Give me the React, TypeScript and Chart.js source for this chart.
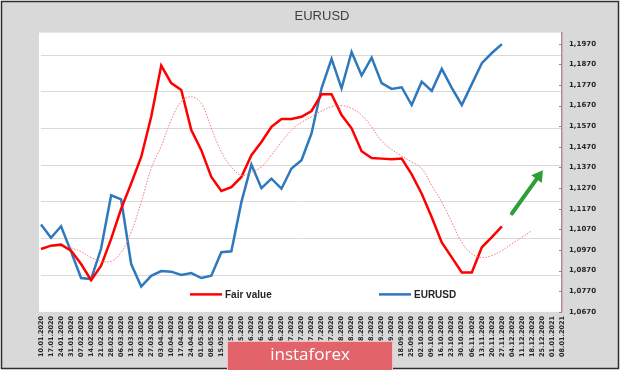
import React, { useEffect, useRef } from "react";
import { Chart, registerables } from "chart.js";

Chart.register(...registerables);

const DATES = [
  "10.01.2020", "17.01.2020", "24.01.2020", "31.01.2020", "07.02.2020", "14.02.2020", "21.02.2020",
  "28.02.2020", "06.03.2020", "13.03.2020", "20.03.2020", "27.03.2020", "03.04.2020", "10.04.2020",
  "17.04.2020", "24.04.2020", "01.05.2020", "08.05.2020", "15.05.2020", "22.05.2020", "29.05.2020",
  "05.06.2020", "12.06.2020", "19.06.2020", "26.06.2020", "03.07.2020", "10.07.2020", "17.07.2020",
  "24.07.2020", "31.07.2020", "07.08.2020", "14.08.2020", "21.08.2020", "28.08.2020", "04.09.2020",
  "11.09.2020", "18.09.2020", "25.09.2020", "02.10.2020", "09.10.2020", "16.10.2020", "23.10.2020",
  "30.10.2020", "06.11.2020", "13.11.2020", "20.11.2020", "27.11.2020", "04.12.2020", "11.12.2020",
  "18.12.2020", "25.12.2020", "01.01.2021", "08.01.2021",
];

const EURUSD = [
  1.1094, 1.1029, 1.1085, 1.0962, 1.0834, 1.0829, 1.0977, 1.1235, 1.1215, 1.0902,
  1.0793, 1.0845, 1.0868, 1.0865, 1.0849, 1.0858, 1.0834, 1.0845, 1.0959, 1.0964,
  1.1202, 1.1384, 1.1270, 1.1316, 1.1267, 1.1365, 1.1405, 1.1535, 1.1754, 1.1897,
  1.1754, 1.1930, 1.1816, 1.1903, 1.1779, 1.1751, 1.1759, 1.1673, 1.1786, 1.1741,
  1.1848, 1.1756, 1.1673, 1.1774, 1.1876, 1.1925, 1.1968,
];

const FAIR_VALUE = [
  1.0975, 1.0991, 1.0996, 1.0967, 1.0902, 1.0824, 1.0894, 1.1024, 1.1170, 1.1292,
  1.1421, 1.1616, 1.1864, 1.1779, 1.1746, 1.1551, 1.1454, 1.1324, 1.1256, 1.1275,
  1.1324, 1.1430, 1.1494, 1.1567, 1.1605, 1.1605, 1.1616, 1.1644, 1.1725, 1.1725,
  1.1624, 1.1560, 1.1449, 1.1416, 1.1413, 1.1410, 1.1413, 1.1337, 1.1243, 1.1129,
  1.1007, 1.0934, 1.0861, 1.0861, 1.0983, 1.1032, 1.1085,
];

const FAIR_VALUE_TREND = [
  null, null, null, 1.0980, 1.0962, 1.0934, 1.0917, 1.0915, 1.0959, 1.1056,
  1.1202, 1.1365, 1.1473, 1.1600, 1.1689, 1.1713, 1.1681, 1.1560, 1.1446, 1.1373,
  1.1332, 1.1348, 1.1373, 1.1430, 1.1494, 1.1551, 1.1589, 1.1616, 1.1644, 1.1665,
  1.1670, 1.1657, 1.1624, 1.1567, 1.1498, 1.1457, 1.1426, 1.1397, 1.1365, 1.1283,
  1.1202, 1.1105, 1.1007, 1.0951, 1.0934, 1.0943, 1.0967, 1.1000, 1.1032, 1.1064,
];

const Y_TICKS = [
  1.067, 1.077, 1.087, 1.097, 1.107, 1.117, 1.127, 1.137, 1.147, 1.157, 1.167, 1.177, 1.187, 1.197,
];
const Y_MIN = 1.067;
const Y_MAX = 1.2024;

const GRID_LINES = [1, 2, 3, 4, 5, 6, 7];
const GRID_MAX = 7.62;

// green "up" arrow annotation, in (category index, price) units
const ARROW_FROM = { x: 47.0, y: 1.1147 };
const ARROW_TO = { x: 50.1, y: 1.1357 };

const LABEL_FONT = "DejaVu Sans";
const TEXT_FONT = "Liberation Sans";

const pad = (arr: (number | null)[]) => {
  const out = arr.slice();
  while (out.length < DATES.length) out.push(null);
  return out;
};

const framePlugin = {
  id: "frame",
  beforeDraw(chart: any) {
    const { ctx, width, height, chartArea } = chart;
    ctx.save();
    ctx.fillStyle = "#ffffff";
    ctx.fillRect(0, 0, width, height);
    ctx.fillStyle = "#d9d9d9";
    ctx.fillRect(1, 1, width - 2, height - 2);
    ctx.strokeStyle = "#2e2e2e";
    ctx.lineWidth = 1.5;
    ctx.strokeRect(1.5, 1.5, width - 3, height - 3);
    ctx.fillStyle = "#ffffff";
    ctx.fillRect(chartArea.left - 2, chartArea.top, chartArea.right - chartArea.left + 1, chartArea.bottom - chartArea.top);
    ctx.restore();
  },
  afterDatasetsDraw(chart: any) {
    const { ctx, scales, chartArea } = chart;
    const x = scales.x;
    const y = scales.y;
    // small inward tick marks on the right axis
    ctx.save();
    ctx.strokeStyle = "#9a8080";
    ctx.lineWidth = 1;
    for (const t of y.ticks) {
      const py = Math.round(y.getPixelForValue(t.value)) + 0.5;
      ctx.beginPath();
      ctx.moveTo(chartArea.right - 3, py);
      ctx.lineTo(chartArea.right, py);
      ctx.stroke();
    }
    ctx.restore();

    const x1 = x.getPixelForValue(ARROW_FROM.x);
    const y1 = y.getPixelForValue(ARROW_FROM.y);
    const x2 = x.getPixelForValue(ARROW_TO.x);
    const y2 = y.getPixelForValue(ARROW_TO.y);
    const ang = Math.atan2(y2 - y1, x2 - x1);
    const headLen = 11;
    const headW = 6.5;
    const bx = x2 - headLen * Math.cos(ang);
    const by = y2 - headLen * Math.sin(ang);
    ctx.save();
    ctx.strokeStyle = "#2f9e38";
    ctx.lineWidth = 4;
    ctx.lineCap = "round";
    ctx.beginPath();
    ctx.moveTo(x1, y1);
    ctx.lineTo(bx, by);
    ctx.stroke();
    ctx.fillStyle = "#2f9e38";
    ctx.beginPath();
    ctx.moveTo(x2, y2);
    ctx.lineTo(bx + headW * Math.sin(ang), by - headW * Math.cos(ang));
    ctx.lineTo(bx - headW * Math.sin(ang), by + headW * Math.cos(ang));
    ctx.closePath();
    ctx.fill();
    ctx.restore();
  },
  afterDraw(chart: any) {
    const { ctx, chartArea } = chart;
    ctx.save();
    // legend inside the plot
    const ly = chartArea.bottom - 17.5;
    const items = [
      { label: "Fair value", color: "#ff0000", x: 190 },
      { label: "EURUSD", color: "#2e78bd", x: 379 },
    ];
    ctx.font = `bold 10px "${TEXT_FONT}"`;
    ctx.textBaseline = "middle";
    ctx.textAlign = "left";
    for (const it of items) {
      ctx.strokeStyle = it.color;
      ctx.lineWidth = 2.5;
      ctx.beginPath();
      ctx.moveTo(it.x, ly);
      ctx.lineTo(it.x + 32, ly);
      ctx.stroke();
      ctx.fillStyle = "#262626";
      ctx.fillText(it.label, it.x + 35, ly + 0.5);
    }
    // watermark
    ctx.fillStyle = "#e2646a";
    ctx.fillRect(227, 341, 166, 29);
    ctx.strokeStyle = "rgba(255,255,255,0.6)";
    ctx.lineWidth = 1;
    ctx.strokeRect(227.5, 341.5, 165, 29);
    ctx.fillStyle = "#ffffff";
    ctx.font = `17px "Open Sans"`;
    ctx.textAlign = "center";
    ctx.textBaseline = "alphabetic";
    ctx.fillText("instaforex", 310, 360);
    ctx.restore();
  },
};

export default function App() {
  const canvasRef = useRef<HTMLCanvasElement | null>(null);

  useEffect(() => {
    document.body.style.margin = "0";
    const canvas = canvasRef.current;
    if (!canvas) return;
    const chart = new Chart(canvas, {
      type: "line",
      data: {
        labels: DATES,
        datasets: [
          {
            label: "Fair value trend",
            data: pad(FAIR_VALUE_TREND),
            borderColor: "#f47878",
            borderWidth: 1,
            borderDash: [1.5, 1.5],
            pointRadius: 0,
            tension: 0.4,
            fill: false,
            yAxisID: "y",
          },
          {
            label: "Fair value",
            data: pad(FAIR_VALUE),
            borderColor: "#ff0000",
            borderWidth: 2.5,
            pointRadius: 0,
            tension: 0,
            fill: false,
            yAxisID: "y",
          },
          {
            label: "EURUSD",
            data: pad(EURUSD),
            borderColor: "#2e78bd",
            borderWidth: 2.5,
            pointRadius: 0,
            tension: 0,
            fill: false,
            yAxisID: "y",
          },
        ],
      },
      options: {
        animation: false,
        responsive: true,
        maintainAspectRatio: false,
        events: [],
        layout: { padding: { left: 41, right: 17, top: 0, bottom: 9 } },
        plugins: {
          legend: { display: false },
          tooltip: { enabled: false },
          title: {
            display: true,
            text: "EURUSD",
            color: "#404040",
            font: { family: TEXT_FONT, size: 13, weight: "normal" },
            padding: { top: 9, bottom: 8 },
          },
        },
        scales: {
          x: {
            type: "category",
            offset: false,
            grid: { display: false, drawTicks: false },
            border: { display: false },
            ticks: {
              autoSkip: false,
              maxRotation: 90,
              minRotation: 90,
              padding: 4,
              color: "#262626",
              font: { family: LABEL_FONT, size: 6.5, weight: "bold" },
            },
          },
          grid: {
            type: "linear",
            position: "left",
            min: 0,
            max: GRID_MAX,
            afterBuildTicks: (scale: any) => {
              scale.ticks = GRID_LINES.map((v) => ({ value: v }));
            },
            grid: { color: "#d9d9d9", lineWidth: 1, drawTicks: false },
            border: { display: false },
            ticks: { display: false, padding: 0 },
          },
          y: {
            type: "linear",
            position: "right",
            min: Y_MIN,
            max: Y_MAX,
            afterBuildTicks: (scale: any) => {
              scale.ticks = Y_TICKS.map((v) => ({ value: v }));
            },
            grid: { drawOnChartArea: false, drawTicks: false },
            border: { display: true, color: "#b38d8d", width: 1.5 },
            ticks: {
              padding: 7,
              color: "#262626",
              font: { family: LABEL_FONT, size: 7, weight: "bold" },
              callback: (v: any) => Number(v).toFixed(4).replace(".", ","),
            },
          },
        },
      },
      plugins: [framePlugin],
    });
    return () => chart.destroy();
  }, []);

  return (
    <div style={{ width: 620, height: 370, position: "relative" }}>
      <canvas ref={canvasRef} />
    </div>
  );
}
